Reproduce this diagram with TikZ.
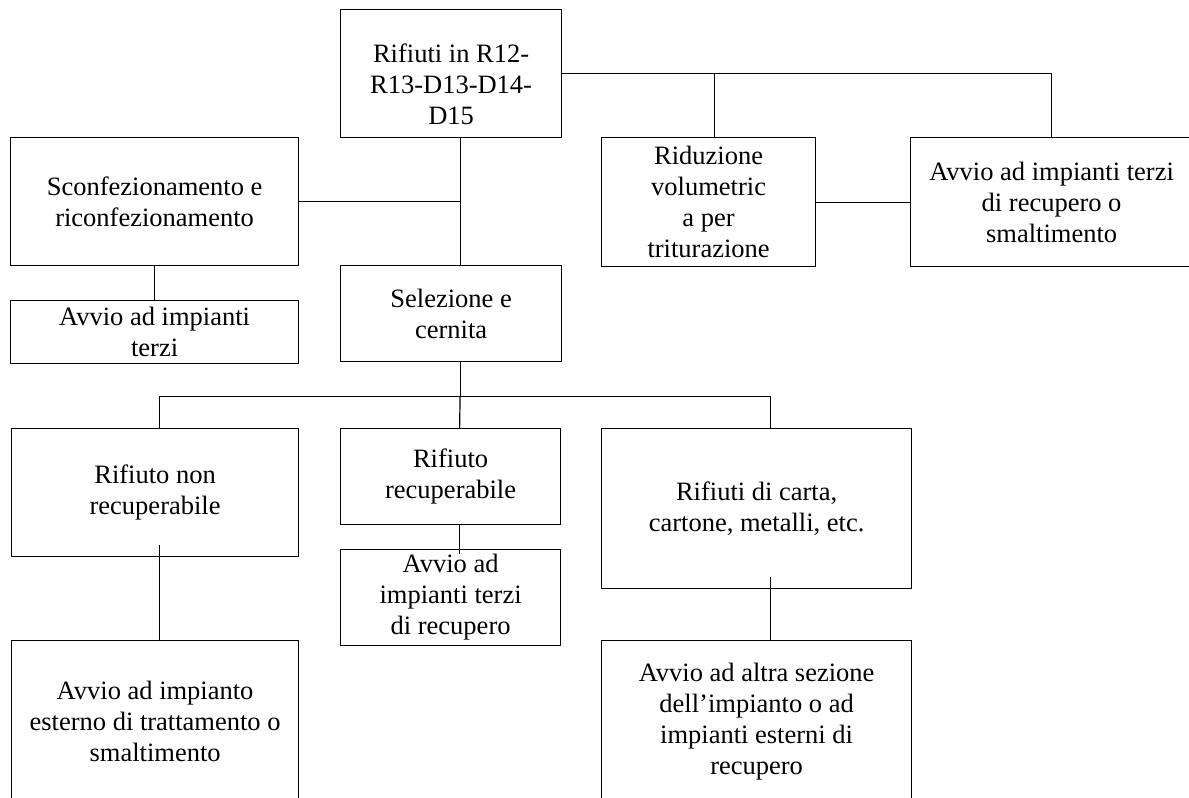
\documentclass[tikz,border=0pt]{standalone}
\usepackage{fontspec}
\setmainfont{Liberation Serif}
\begin{document}
\begin{tikzpicture}[
  x=1pt, y=-1pt,
  box/.style={draw, line width=1.2pt, align=center, inner sep=0pt, anchor=north west,
    font=\fontsize{26.5}{31}\selectfont},
  link/.style={line width=1.2pt}
]
\useasboundingbox (0,0) rectangle (1189,798);
\clip (0,0) rectangle (1189,798);
\node[box, minimum width=221pt, minimum height=128pt] (waste) at (340,9) {\rule{0pt}{40pt}Rifiuti in R12-\\R13-D13-D14-\\D15};
\node[box, minimum width=288pt, minimum height=128pt] (unpack) at (10,137) {Sconfezionamento e\\riconfezionamento};
\node[box, minimum width=288pt, minimum height=63pt] (thirdL) at (10,300) {Avvio ad impianti\\terzi};
\node[box, minimum width=221pt, minimum height=96pt] (sort) at (340,265) {Selezione e\\cernita};
\node[box, minimum width=214pt, minimum height=129pt] (shred) at (601,137) {Riduzione\\volumetric\\a per\\triturazione};
\node[box, minimum width=282pt, minimum height=129pt] (thirdR) at (910,137) {Avvio ad impianti terzi\\di recupero o\\smaltimento};
\node[box, minimum width=287pt, minimum height=128pt] (nonrec) at (11,428) {Rifiuto non\\recuperabile};
\node[box, minimum width=220pt, minimum height=96pt] (rec) at (340,428) {Rifiuto\\recuperabile};
\node[box, minimum width=220pt, minimum height=96pt] (recout) at (340,549) {Avvio ad\\impianti terzi\\di recupero};
\node[box, minimum width=310pt, minimum height=160pt] (paper) at (601,428) {Rifiuti di carta,\\cartone, metalli, etc.};
\node[box, minimum width=287pt, minimum height=161pt] (disposal) at (11,640) {Avvio ad impianto\\esterno di trattamento o\\smaltimento};
\node[box, minimum width=310pt, minimum height=162pt] (section) at (601,640) {Avvio ad altra sezione\\dell’impianto o ad\\impianti esterni di\\recupero};
\coordinate (spine) at ([xshift=9pt]waste.south);
\coordinate (fork) at (spine |- 0,396.5);
\draw[link] (waste.east) -- (waste.east -| thirdR.north) -- (thirdR.north);
\draw[link] ([xshift=6pt]shred.north) -- ([xshift=6pt]shred.north |- waste.east);
\draw[link] (shred.east) -- (thirdR.west);
\draw[link] (spine) -- (spine |- sort.north);
\draw[link] (unpack.east) -- (unpack.east -| spine);
\draw[link] (unpack.south) -- (thirdL.north);
\draw[link] (spine |- sort.south) -- (fork);
\draw[link] ([xshift=4pt]nonrec.north) |- (fork) -| ([xshift=14pt]paper.north);
\draw[link] (fork) -- ([xshift=9pt]rec.north);
\draw[link] ([xshift=4pt,yshift=12pt]nonrec.south) -- ([xshift=4pt]disposal.north);
\draw[link] ([xshift=9pt]rec.south) -- ([xshift=9pt,yshift=-5pt]recout.north);
\draw[link] ([xshift=14pt,yshift=12pt]paper.south) -- ([xshift=14pt]section.north);
\end{tikzpicture}
\end{document}
